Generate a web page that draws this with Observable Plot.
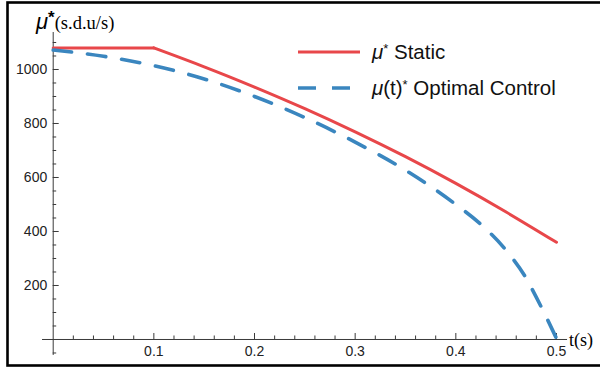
<!DOCTYPE html>
<html>
<head>
<meta charset="utf-8">
<script src="https://cdn.jsdelivr.net/npm/d3@7"></script>
<script src="https://cdn.jsdelivr.net/npm/@observablehq/plot@0.6"></script>
<style>
  html, body { margin: 0; padding: 0; background: #fff; }
  #chart { position: relative; width: 600px; height: 369px; overflow: hidden; }
  #chart svg { position: absolute; left: 0; top: 0; }
  .sans { font-family: "Liberation Sans", Arial, sans-serif; }
  .serif { font-family: "Liberation Serif", "Times New Roman", serif; }
  .ylab { position: absolute; left: 36px; top: 9px; white-space: nowrap; line-height: 1; }
  .xlab { position: absolute; left: 569px; top: 331px; white-space: nowrap; line-height: 1; }
  .legend { position: absolute; left: 298px; top: 40px; }
  .legend .row { position: absolute; left: 0; height: 24px; white-space: nowrap; }
  .legend svg { position: absolute; left: 0; top: 0; }
  .legend .txt { position: absolute; left: 74px; top: -3px; font-size: 20.5px; line-height: 24px; color: #111; }
  .legend sup { font-size: 13px; vertical-align: 6px; }
</style>
</head>
<body>
<div id="chart"></div>
<script>
// Time axis (s)
const tStatic = [0, 0.1, 0.15, 0.2, 0.25, 0.3, 0.35, 0.4, 0.45, 0.5];
// μ* for the static solution (s.d.u/s)
const muStatic = [1080, 1080, 1010, 935, 855, 769, 677, 578, 472, 360];

const tOptimal = [0, 0.05, 0.1, 0.15, 0.2, 0.25, 0.3, 0.35, 0.4, 0.425, 0.45, 0.47, 0.48, 0.49, 0.5];
// μ(t)* for the optimal control solution (s.d.u/s)
const muOptimal = [1072, 1049, 1014, 965, 900, 822, 731, 627, 500, 426, 330, 226, 156, 82, 4];

// Tick labels
const xTickLabels = [0.1, 0.2, 0.3, 0.4, 0.5];
const yTickLabels = [200, 400, 600, 800, 1000];

const colStatic = "#e8474a";
const colOptimal = "#3a86bf";

const staticData = tStatic.map((t, i) => ({t, mu: muStatic[i]}));
const optimalData = tOptimal.map((t, i) => ({t, mu: muOptimal[i]}));

// The static curve is flat until the corner at t = 0.1, then bends smoothly downward
const tCorner = 0.1;
const staticFlat = staticData.filter(d => d.t <= tCorner);
const staticFalling = staticData.filter(d => d.t >= tCorner);

// Minor ticks: every 0.02 s and every 50 units, skipping the labelled ones
const xMinor = d3.range(1, 26).map(k => k / 50).filter(v => !xTickLabels.some(m => Math.abs(m - v) < 1e-9));
const yMinor = d3.range(-1, 23).map(k => k * 50).filter(v => v !== 0 && !yTickLabels.includes(v));

// Axes cross at the origin and run a little past the data
const xAxisSpan = [-0.0106, 0.511];
const yAxisSpan = [-59, 1137];

const axisColor = "#3a3a3a";

const plot = Plot.plot({
  width: 600,
  height: 369,
  marginLeft: 7,
  marginTop: 2,
  marginRight: -4,
  marginBottom: 4,
  x: {domain: [-0.0454, 0.5477], axis: null},
  y: {domain: [-96.3, 1248.1], axis: null},
  style: {background: "transparent", fontFamily: "'Liberation Sans', Arial, sans-serif"},
  marks: [
    Plot.frame({stroke: "#000", strokeWidth: 2.6}),
    // axis lines
    Plot.ruleY([0], {x1: xAxisSpan[0], x2: xAxisSpan[1], stroke: axisColor, strokeWidth: 1}),
    Plot.ruleX([0], {y1: yAxisSpan[0], y2: yAxisSpan[1], stroke: axisColor, strokeWidth: 1}),
    // x ticks (pointing up from the axis)
    Plot.ruleX(xTickLabels, {x: d => d, y1: 0, y2: 0, insetBottom: 6, stroke: axisColor}),
    Plot.ruleX(xMinor, {x: d => d, y1: 0, y2: 0, insetBottom: 3.5, stroke: axisColor}),
    // y ticks (pointing right from the axis)
    Plot.ruleY(yTickLabels, {y: d => d, x1: 0, x2: 0, insetLeft: 6, stroke: axisColor}),
    Plot.ruleY(yMinor, {y: d => d, x1: 0, x2: 0, insetLeft: 3.5, stroke: axisColor}),
    // tick labels
    Plot.text(xTickLabels, {x: d => d, y: 0, text: d => String(d), dy: 12, fontSize: 14, fill: "#222"}),
    Plot.text(yTickLabels, {x: 0, y: d => d, text: d => String(d), dx: -6, textAnchor: "end", fontSize: 14, fill: "#222"}),
    // curves
    Plot.line(staticFlat, {x: "t", y: "mu", stroke: colStatic, strokeWidth: 3}),
    Plot.line(staticFalling, {x: "t", y: "mu", curve: "natural", stroke: colStatic, strokeWidth: 3}),
    Plot.line(optimalData, {x: "t", y: "mu", curve: "monotone-x", stroke: colOptimal, strokeWidth: 3.6, strokeDasharray: "18.5,16"})
  ]
});

const chart = document.getElementById("chart");
chart.appendChild(plot);

const ylab = document.createElement("div");
ylab.className = "ylab";
ylab.innerHTML = '<span class="sans" style="font-style:italic;font-size:22px">μ</span>' +
  '<span class="sans" style="font-weight:bold;font-size:17px;vertical-align:6px">*</span>' +
  '<span class="serif" style="font-size:18.5px">(s.d.u/s)</span>';
chart.appendChild(ylab);

const xlab = document.createElement("div");
xlab.className = "xlab serif";
xlab.style.fontSize = "18px";
xlab.textContent = "t(s)";
chart.appendChild(xlab);

const legend = document.createElement("div");
legend.className = "legend sans";
legend.innerHTML =
  '<div class="row" style="top:0px">' +
    '<svg width="64" height="24"><line x1="0" x2="62" y1="12" y2="12" stroke="' + colStatic + '" stroke-width="3"/></svg>' +
    '<span class="txt"><i>μ</i><sup>*</sup> Static</span>' +
  '</div>' +
  '<div class="row" style="top:36px">' +
    '<svg width="64" height="24"><line x1="0" x2="56" y1="12" y2="12" stroke="' + colOptimal + '" stroke-width="3.6" stroke-dasharray="18,16"/></svg>' +
    '<span class="txt"><i>μ</i>(t)<sup>*</sup> Optimal Control</span>' +
  '</div>';
chart.appendChild(legend);
</script>
</body>
</html>
